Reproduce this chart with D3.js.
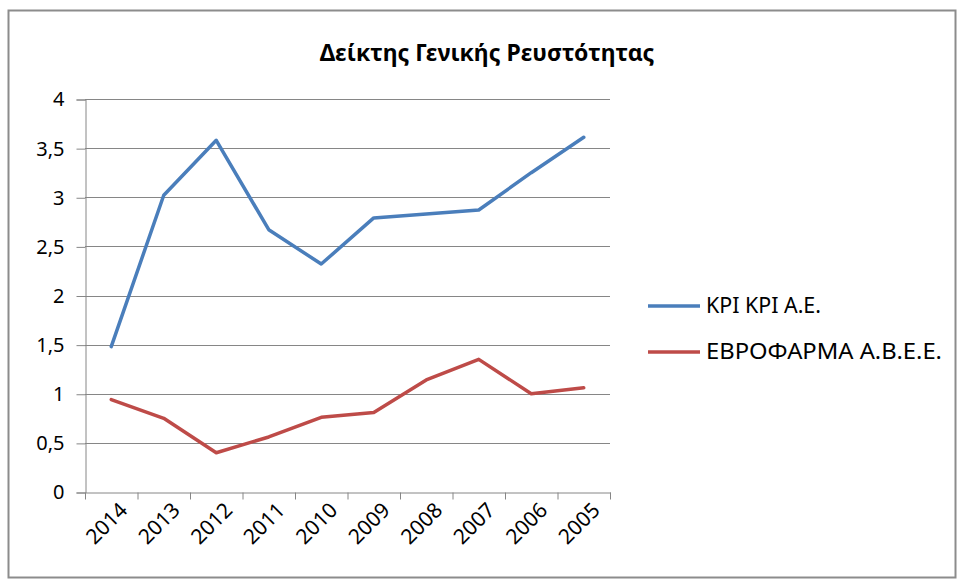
<!DOCTYPE html>
<html>
<head>
<meta charset="utf-8">
<script src="https://cdn.jsdelivr.net/npm/d3@7"></script>
<style>
  body { margin: 0; background: #fff; }
  text { font-family: "Noto Sans", "Open Sans", sans-serif; }
</style>
</head>
<body>
<script>
  // years, as they appear left to right
  var years = ["2014", "2013", "2012", "2011", "2010", "2009", "2008", "2007", "2006", "2005"];
  var kriKri = [1.48, 3.02, 3.58, 2.67, 2.32, 2.79, 2.83, 2.87, 3.25, 3.61];
  var evrofarma = [0.94, 0.75, 0.40, 0.56, 0.76, 0.81, 1.14, 1.35, 1.00, 1.06];
  var yTicks = [0, 0.5, 1, 1.5, 2, 2.5, 3, 3.5, 4];
  var seriesNames = ["ΚΡΙ ΚΡΙ Α.Ε.", "ΕΒΡΟΦΑΡΜΑ Α.Β.Ε.Ε."];
  var title = "Δείκτης Γενικής Ρευστότητας";

  var width = 957, height = 580;
  var plotLeft = 85, plotRight = 610, plotTop = 99, plotBottom = 492;
  var colors = ["#4a7ebb", "#be4b48"];

  var svg = d3.select("body").append("svg")
    .attr("width", width)
    .attr("height", height);

  // chart frame
  svg.append("rect")
    .attr("x", 8.5).attr("y", 10.5)
    .attr("width", 947).attr("height", 567)
    .attr("fill", "#fff")
    .attr("stroke", "#8c8c8c")
    .attr("stroke-width", 2);

  var x = d3.scaleBand().domain(years).range([plotLeft, plotRight]);
  var y = d3.scaleLinear().domain([0, 4]).range([plotBottom, plotTop]);

  // gridlines
  svg.append("g")
    .selectAll("line")
    .data(yTicks.filter(function(d) { return d > 0; }))
    .enter().append("line")
    .attr("x1", plotLeft).attr("x2", plotRight)
    .attr("y1", function(d) { return Math.round(y(d)) + 0.5; })
    .attr("y2", function(d) { return Math.round(y(d)) + 0.5; })
    .attr("stroke", "#868686");

  // y axis
  var yAxis = svg.append("g")
    .attr("transform", "translate(" + (plotLeft + 0.5) + ",0.5)")
    .call(d3.axisLeft(y).tickValues(yTicks).tickSize(9).tickPadding(12)
      .tickFormat(function(d) { return String(d).replace(".", ","); }));
  yAxis.select(".domain").attr("stroke", "#868686");
  yAxis.selectAll(".tick line").attr("stroke", "#868686");
  yAxis.selectAll("text").attr("font-size", 20).attr("fill", "#000");

  // x axis
  var xAxis = svg.append("g")
    .attr("transform", "translate(0.5," + (plotBottom + 0.5) + ")")
    .call(d3.axisBottom(x).tickSize(0).tickFormat(""));
  xAxis.select(".domain").attr("stroke", "#868686");
  // tick marks between categories
  xAxis.selectAll(".sep")
    .data(d3.range(years.length + 1))
    .enter().append("line")
    .attr("class", "sep")
    .attr("x1", function(i) { return plotLeft + i * x.step(); })
    .attr("x2", function(i) { return plotLeft + i * x.step(); })
    .attr("y1", 0).attr("y2", 7)
    .attr("stroke", "#868686");

  svg.append("g")
    .selectAll("text")
    .data(years)
    .enter().append("text")
    .attr("transform", function(d) {
      return "translate(" + (x(d) + x.bandwidth() / 2 + 7) + "," + (plotBottom + 9) + ") rotate(-45)";
    })
    .attr("text-anchor", "end")
    .attr("dy", "0.7em")
    .attr("font-size", 21)
    .text(function(d) { return d; });

  // lines
  var line = d3.line()
    .x(function(d, i) { return x(years[i]) + x.bandwidth() / 2; })
    .y(function(d) { return y(d); });

  [kriKri, evrofarma].forEach(function(vals, k) {
    svg.append("path")
      .datum(vals)
      .attr("d", line)
      .attr("fill", "none")
      .attr("stroke", colors[k])
      .attr("stroke-width", 3.5)
      .attr("stroke-linejoin", "round")
      .attr("stroke-linecap", "round");
  });

  // title
  svg.append("text")
    .attr("x", 487).attr("y", 61)
    .attr("text-anchor", "middle")
    .attr("font-size", 23)
    .attr("font-weight", "bold")
    .text(title);

  // legend
  var legend = svg.append("g")
    .selectAll("g")
    .data(seriesNames)
    .enter().append("g")
    .attr("transform", function(d, i) { return "translate(648," + (306 + i * 46) + ")"; });
  legend.append("line")
    .attr("x1", 0).attr("x2", 52)
    .attr("stroke", function(d, i) { return colors[i]; })
    .attr("stroke-width", 3.5);
  legend.append("text")
    .attr("x", 58)
    .attr("dy", "0.35em")
    .attr("font-size", 21)
    .attr("textLength", function(d, i) { return i === 0 ? 115 : 236; })
    .attr("lengthAdjust", "spacingAndGlyphs")
    .text(function(d) { return d; });
</script>
</body>
</html>
